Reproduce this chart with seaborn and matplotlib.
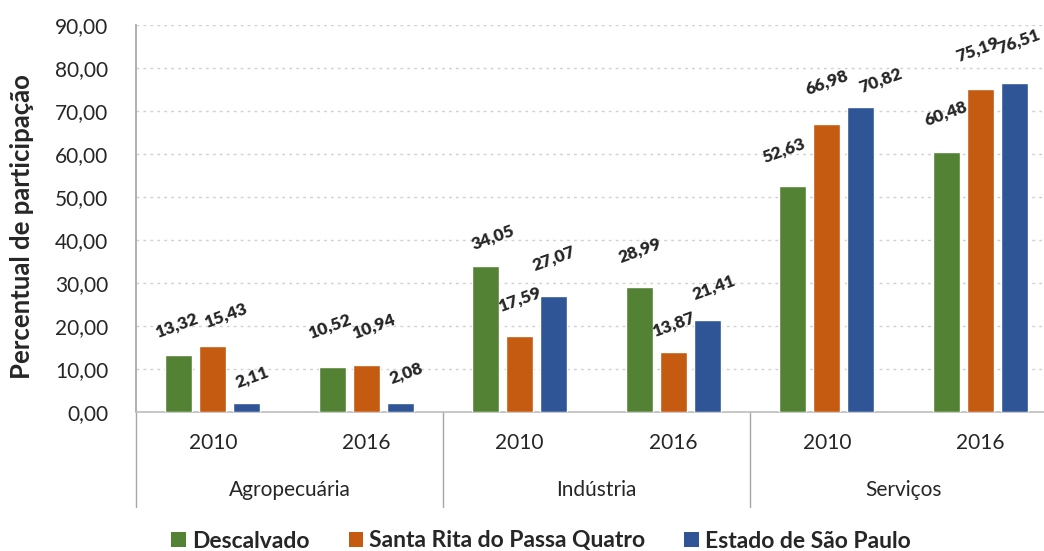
import matplotlib
matplotlib.use("Agg")
import matplotlib.pyplot as plt
import matplotlib.ticker as mticker
import matplotlib.transforms as mtransforms
from matplotlib.patches import Patch
import seaborn as sns
import pandas as pd

# Participation of each economic sector (%)
sectors = ["Agropecuária", "Indústria", "Serviços"]
years = ["2010", "2016"]
series = ["Descalvado", "Santa Rita do Passa Quatro", "Estado de São Paulo"]
descalvado = [13.32, 10.52, 34.05, 28.99, 52.63, 60.48]
santa_rita = [15.43, 10.94, 17.59, 13.87, 66.98, 75.19]
estado_sp = [2.11, 2.08, 27.07, 21.41, 70.82, 76.51]
colors = ["#548235", "#C55A11", "#2F5597"]

# Hand placement of each value label relative to its bar top (px: right, up)
label_nudge = [
    [(-2, 29), (-3, 40), (7, 28), (0, 37), (-9, 35), (-1, 38)],
    [(13, 30), (7, 38), (0, 37), (0, 28), (0, 41), (-2, 39)],
    [(6, 26), (6, 30), (0, 37), (7, 32), (20, 27), (5, 41)],
]

groups = [f"{s} {y}" for s in sectors for y in years]
rows = []
for name, vals in zip(series, [descalvado, santa_rita, estado_sp]):
    for g, v in zip(groups, vals):
        rows.append({"grupo": g, "serie": name, "valor": v})
df = pd.DataFrame(rows)

sns.set_theme(style="white")
plt.rcParams["font.family"] = ["Lato", "DejaVu Sans"]
txt = "#262626"

W, H = 1044, 551
fig = plt.figure(figsize=(W / 100, H / 100), dpi=100)
ax_left, ax_right, ax_top, ax_bottom = 136, 1057, 25, 412
ax = fig.add_axes([ax_left / W, 1 - ax_bottom / H,
                   (ax_right - ax_left) / W, (ax_bottom - ax_top) / H])

sns.barplot(data=df, x="grupo", y="valor", hue="serie", order=groups,
            hue_order=series, palette=colors, width=0.66, gap=0.2,
            saturation=1, legend=False, ax=ax, zorder=3)

ax.set_xlim(-0.5, len(groups) - 0.5)
ax.set_ylim(0, 90)
ax.set_yticks(range(0, 91, 10))
ax.yaxis.set_major_formatter(
    mticker.FuncFormatter(lambda v, p: f"{v:.2f}".replace(".", ",")))
ax.tick_params(axis="y", labelsize=15, colors=txt, length=0, pad=20)
ax.tick_params(axis="x", length=0)
ax.set_xticks(range(len(groups)))
ax.set_xticklabels([])
ax.set_xlabel("")
ax.set_ylabel("")
ax.grid(axis="y", color="#D0D0D0", linestyle=(0, (2, 3)), linewidth=1, zorder=0)

for side in ["top", "right"]:
    ax.spines[side].set_visible(False)
ax.spines["bottom"].set_color("#BFBFBF")
ax.spines["left"].set_color("#A6A6A6")

# Value labels above bars
px = 72 / 100  # points per pixel
for container, nudges in zip(ax.containers, label_nudge):
    for bar, (dx, dy) in zip(container, nudges):
        h = bar.get_height()
        ax.annotate(f"{h:.2f}".replace(".", ","),
                    (bar.get_x() + bar.get_width() / 2, h),
                    xytext=(dx * px, dy * px), textcoords="offset points",
                    ha="center", va="center", rotation=20,
                    fontsize=12.5, fontweight="heavy", color=txt, zorder=5)

# Two-level category axis
trans = mtransforms.blended_transform_factory(ax.transData, ax.transAxes)
for i, g in enumerate(groups):
    ax.text(i, -0.080, years[i % 2], transform=trans, ha="center",
            va="center", fontsize=15, color=txt)
for j, s in enumerate(sectors):
    ax.text(2 * j + 0.5, -0.2016, s, transform=trans, ha="center",
            va="center", fontsize=15, color=txt)
for xs in [-0.5, 1.5, 3.5, 5.5]:
    ax.plot([xs, xs], [0, -0.245], transform=trans, color="#A6A6A6",
            linewidth=1, clip_on=False)

fig.text(22 / W, 1 - 227 / H, "Percentual de participação", rotation=90,
         ha="center", va="center", fontsize=18.5, fontweight="bold", color=txt)

handles = [Patch(facecolor=c, edgecolor="none") for c in colors]
leg = fig.legend(handles, series, loc="center", ncol=3,
                 bbox_to_anchor=(541 / W, 1 - 541 / H), frameon=False,
                 handlelength=0.65, handleheight=0.65, handletextpad=0.25,
                 columnspacing=1.7, prop={"size": 16.5, "weight": "bold"})
for t in leg.get_texts():
    t.set_color(txt)

fig.savefig("out.png", dpi=100)
